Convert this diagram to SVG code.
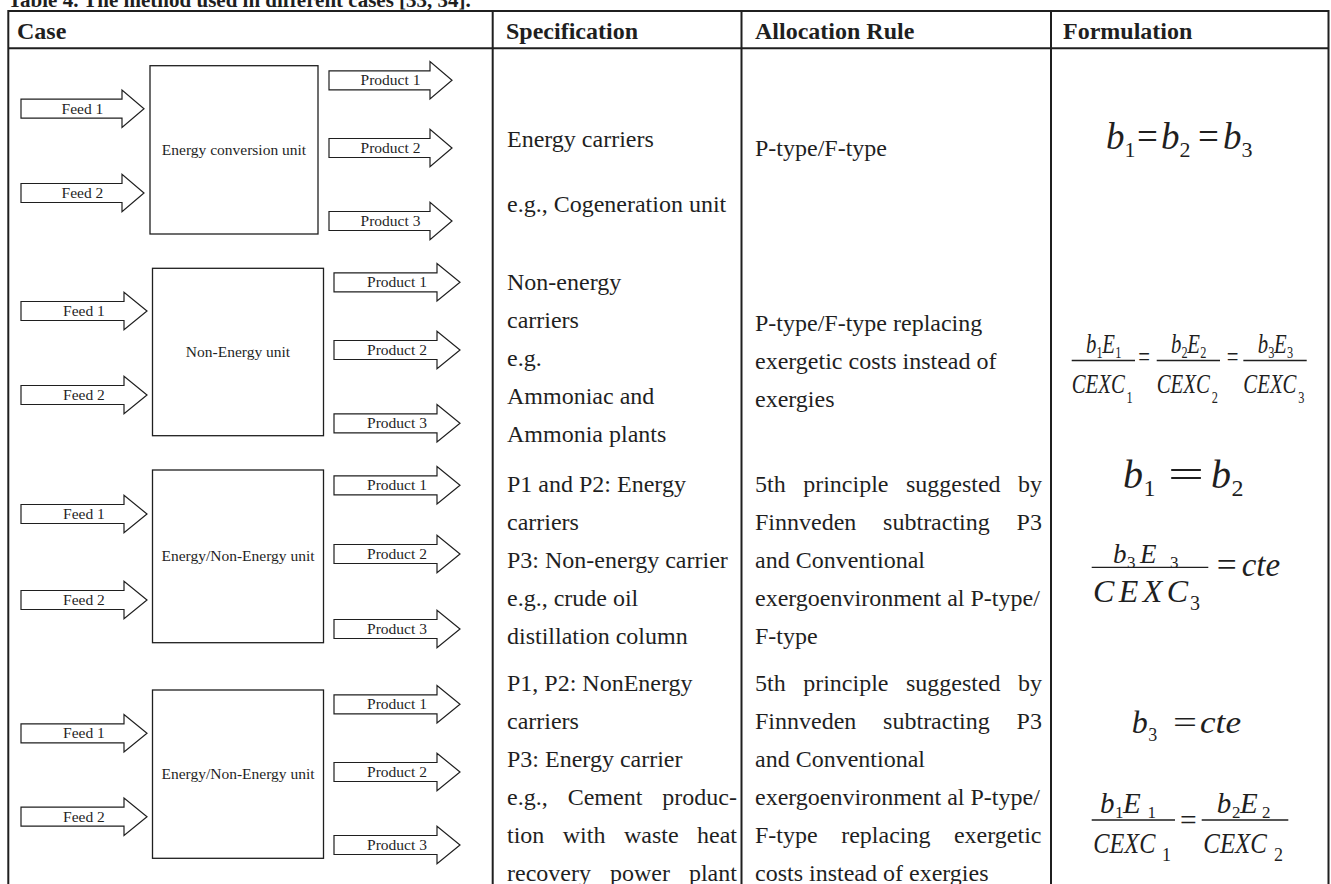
<svg xmlns="http://www.w3.org/2000/svg" width="1331" height="884" viewBox="0 0 1331 884">
<style>
.grid{stroke:#1f1f1f;stroke-width:2;fill:none}
.box{fill:#fff;stroke:#1f1f1f;stroke-width:1.3}
.arr{fill:#fff;stroke:#1f1f1f;stroke-width:1.2;stroke-linejoin:miter}
.lbl{font-family:"Liberation Serif","Times New Roman",serif;font-size:15.5px;fill:#1f1f1f;text-anchor:middle}
.hd{font-family:"Liberation Serif","Times New Roman",serif;font-size:24px;font-weight:bold;fill:#1f1f1f}
.tt{font-family:"Liberation Serif","Times New Roman",serif;font-size:21px;font-weight:bold;fill:#1f1f1f}
.tx{font-family:"Liberation Serif","Times New Roman",serif;font-size:24px;fill:#1f1f1f}
.m{font-family:"Liberation Serif","Times New Roman",serif;font-style:italic;fill:#1f1f1f}
.n{font-family:"Liberation Serif","Times New Roman",serif;font-style:normal;fill:#1f1f1f}
.bar{stroke:#1f1f1f;stroke-width:1.3}
</style>
<defs>
<path id="arrL" class="arr" d="M0,-9.5 H103 V-18.7 L126,0 L103,18.7 V9.5 H0 Z"/>
<path id="arrS" class="arr" d="M0,-9.5 H101 V-18.7 L123,0 L101,18.7 V9.5 H0 Z"/>
</defs>
<rect width="1331" height="884" fill="#fff"/>
<text class="tt" x="8" y="7">Table 4. The method used in different cases [33, 34].</text>

<g id="table-grid" class="grid">
<line x1="8.3" y1="11" x2="1328.5" y2="11"/>
<line x1="8.3" y1="48.3" x2="1328.5" y2="48.3"/>
<line x1="8.3" y1="10" x2="8.3" y2="884"/>
<line x1="492.7" y1="10" x2="492.7" y2="884"/>
<line x1="741.5" y1="10" x2="741.5" y2="884"/>
<line x1="1051" y1="10" x2="1051" y2="884"/>
<line x1="1328.5" y1="10" x2="1328.5" y2="884"/>
</g>

<g id="header">
<text class="hd" x="17" y="38.5">Case</text>
<text class="hd" x="506" y="38.5">Specification</text>
<text class="hd" x="755" y="38.5">Allocation Rule</text>
<text class="hd" x="1063" y="38.5">Formulation</text>
</g>

<g id="unit1"><rect class="box" x="150" y="65.7" width="168" height="168.3"/><text class="lbl" x="234" y="154.5">Energy conversion unit</text></g>
<g id="unit2"><rect class="box" x="152.5" y="268.3" width="171" height="167.4"/><text class="lbl" x="238" y="356.5">Non-Energy unit</text></g>
<g id="unit3"><rect class="box" x="152.5" y="470" width="171" height="172.7"/><text class="lbl" x="238" y="560.5">Energy/Non-Energy unit</text></g>
<g id="unit4"><rect class="box" x="152.5" y="690" width="171" height="168.3"/><text class="lbl" x="238" y="778.5">Energy/Non-Energy unit</text></g>

<g id="connectors">
<g id="r1-feed1"><use href="#arrS" x="21" y="108.7"/><text class="lbl" x="82.5" y="113.7">Feed 1</text></g>
<g id="r1-feed2"><use href="#arrS" x="21" y="193"/><text class="lbl" x="82.5" y="198">Feed 2</text></g>
<g id="r1-prod1"><use href="#arrS" x="329" y="80.3"/><text class="lbl" x="390.5" y="85.3">Product 1</text></g>
<g id="r1-prod2"><use href="#arrS" x="329" y="148"/><text class="lbl" x="390.5" y="153">Product 2</text></g>
<g id="r1-prod3"><use href="#arrS" x="329" y="221"/><text class="lbl" x="390.5" y="226">Product 3</text></g>

<g id="r2-feed1"><use href="#arrL" x="21" y="311"/><text class="lbl" x="84" y="316">Feed 1</text></g>
<g id="r2-feed2"><use href="#arrL" x="21" y="395"/><text class="lbl" x="84" y="400">Feed 2</text></g>
<g id="r2-prod1"><use href="#arrL" x="334" y="282.3"/><text class="lbl" x="397" y="287.3">Product 1</text></g>
<g id="r2-prod2"><use href="#arrL" x="334" y="350"/><text class="lbl" x="397" y="355">Product 2</text></g>
<g id="r2-prod3"><use href="#arrL" x="334" y="423.3"/><text class="lbl" x="397" y="428.3">Product 3</text></g>

<g id="r3-feed1"><use href="#arrL" x="21" y="514"/><text class="lbl" x="84" y="519">Feed 1</text></g>
<g id="r3-feed2"><use href="#arrL" x="21" y="600"/><text class="lbl" x="84" y="605">Feed 2</text></g>
<g id="r3-prod1"><use href="#arrL" x="334" y="485.3"/><text class="lbl" x="397" y="490.3">Product 1</text></g>
<g id="r3-prod2"><use href="#arrL" x="334" y="554"/><text class="lbl" x="397" y="559">Product 2</text></g>
<g id="r3-prod3"><use href="#arrL" x="334" y="629"/><text class="lbl" x="397" y="634">Product 3</text></g>

<g id="r4-feed1"><use href="#arrL" x="21" y="733.3"/><text class="lbl" x="84" y="738.3">Feed 1</text></g>
<g id="r4-feed2"><use href="#arrL" x="21" y="816.7"/><text class="lbl" x="84" y="821.7">Feed 2</text></g>
<g id="r4-prod1"><use href="#arrL" x="334" y="704.3"/><text class="lbl" x="397" y="709.3">Product 1</text></g>
<g id="r4-prod2"><use href="#arrL" x="334" y="772"/><text class="lbl" x="397" y="777">Product 2</text></g>
<g id="r4-prod3"><use href="#arrL" x="334" y="845"/><text class="lbl" x="397" y="850">Product 3</text></g>
</g>

<g id="spec">
<text class="tx" x="507" y="147">Energy carriers</text>
<text class="tx" x="507" y="212">e.g., Cogeneration unit</text>

<text class="tx" x="507" y="290">Non-energy</text>
<text class="tx" x="507" y="328">carriers</text>
<text class="tx" x="507" y="366">e.g.</text>
<text class="tx" x="507" y="404">Ammoniac and</text>
<text class="tx" x="507" y="442">Ammonia plants</text>

<text class="tx" x="507" y="492">P1 and P2: Energy</text>
<text class="tx" x="507" y="530">carriers</text>
<text class="tx" x="507" y="568">P3: Non-energy carrier</text>
<text class="tx" x="507" y="606">e.g., crude oil</text>
<text class="tx" x="507" y="644">distillation column</text>

<text class="tx" x="507" y="691">P1, P2: NonEnergy</text>
<text class="tx" x="507" y="729">carriers</text>
<text class="tx" x="507" y="767">P3: Energy carrier</text>
<text class="tx" x="507" y="805" style="word-spacing:14px">e.g., Cement produc-</text>
<text class="tx" x="507" y="843" style="word-spacing:12.45px">tion with waste heat</text>
<text class="tx" x="507" y="881" style="word-spacing:13px">recovery power plant</text>
</g>

<g id="alloc">
<text class="tx" x="755" y="156">P-type/F-type</text>

<text class="tx" x="755" y="331">P-type/F-type replacing</text>
<text class="tx" x="755" y="369">exergetic costs instead of</text>
<text class="tx" x="755" y="407">exergies</text>

<text class="tx" x="755" y="492" style="word-spacing:11.5px">5th principle suggested by</text>
<text class="tx" x="755" y="530" style="word-spacing:20.8px">Finnveden subtracting P3</text>
<text class="tx" x="755" y="568">and Conventional</text>
<text class="tx" x="755" y="606">exergoenvironment al P-type/</text>
<text class="tx" x="755" y="644">F-type</text>

<text class="tx" x="755" y="691" style="word-spacing:11.5px">5th principle suggested by</text>
<text class="tx" x="755" y="729" style="word-spacing:20.8px">Finnveden subtracting P3</text>
<text class="tx" x="755" y="767">and Conventional</text>
<text class="tx" x="755" y="805">exergoenvironment al P-type/</text>
<text class="tx" x="755" y="843" style="word-spacing:17.5px">F-type replacing exergetic</text>
<text class="tx" x="755" y="881">costs instead of exergies</text>
</g>

<g id="formula1">
<text class="m" font-size="37" x="1106" y="149">b</text>
<text class="n" font-size="22" x="1124.5" y="157">1</text>
<text class="n" font-size="37" x="1137" y="149">=</text>
<text class="m" font-size="37" x="1161" y="149">b</text>
<text class="n" font-size="22" x="1179.5" y="157">2</text>
<text class="n" font-size="37" x="1198" y="149">=</text>
<text class="m" font-size="37" x="1223" y="149">b</text>
<text class="n" font-size="22" x="1241.5" y="157">3</text>
</g>

<g id="formula2" transform="matrix(0.77 0 0 1 1060 0)">
<line class="bar" x1="15.2" y1="360.5" x2="97.4" y2="360.5"/>
<text class="m" font-size="27" x="33.8" y="353.5">b</text>
<text class="n" font-size="16" x="47.5" y="358.5">1</text>
<text class="m" font-size="27" x="55" y="353.5">E</text>
<text class="n" font-size="16" x="71.8" y="358.5">1</text>
<text class="m" font-size="27" x="15.2" y="393">CEXC</text>
<text class="n" font-size="16" x="86.5" y="403">1</text>
<text class="n" font-size="27" x="101.5" y="366.5">=</text>
<line class="bar" x1="125.6" y1="360.5" x2="207.8" y2="360.5"/>
<text class="m" font-size="27" x="144.2" y="353.5">b</text>
<text class="n" font-size="16" x="157.9" y="358.5">2</text>
<text class="m" font-size="27" x="165.4" y="353.5">E</text>
<text class="n" font-size="16" x="182.2" y="358.5">2</text>
<text class="m" font-size="27" x="125.6" y="393">CEXC</text>
<text class="n" font-size="16" x="197" y="403">2</text>
<text class="n" font-size="27" x="216.5" y="366.5">=</text>
<line class="bar" x1="238.1" y1="360.5" x2="320.4" y2="360.5"/>
<text class="m" font-size="27" x="256.7" y="353.5">b</text>
<text class="n" font-size="16" x="270.4" y="358.5">3</text>
<text class="m" font-size="27" x="277.9" y="353.5">E</text>
<text class="n" font-size="16" x="294.7" y="358.5">3</text>
<text class="m" font-size="27" x="238.1" y="393">CEXC</text>
<text class="n" font-size="16" x="309.5" y="403">3</text>
</g>

<g id="formula3">
<text class="m" font-size="40" x="1123" y="488">b</text>
<text class="n" font-size="24" x="1143.5" y="496">1</text>
<text class="n" font-size="40" x="1168" y="488" textLength="36" lengthAdjust="spacingAndGlyphs">=</text>
<text class="m" font-size="40" x="1211" y="488">b</text>
<text class="n" font-size="24" x="1231.5" y="496">2</text>
<line class="bar" x1="1091.7" y1="567.3" x2="1208.3" y2="567.3"/>
<text class="m" font-size="27" x="1113" y="563">b</text>
<text class="n" font-size="17" x="1127" y="568">3</text>
<text class="m" font-size="27" x="1140" y="563">E</text>
<text class="n" font-size="17" x="1170" y="568">3</text>
<text class="m" font-size="32" x="1093" y="602" textLength="95" lengthAdjust="spacing">CEXC</text>
<text class="n" font-size="20" x="1190" y="610">3</text>
<text class="n" font-size="33" x="1216.7" y="576" textLength="20" lengthAdjust="spacingAndGlyphs">=</text>
<text class="m" font-size="33" x="1241.7" y="576">cte</text>
</g>

<g id="formula4">
<text class="m" font-size="32" x="1131.7" y="733">b</text>
<text class="n" font-size="18" x="1148.3" y="741">3</text>
<text class="n" font-size="32" x="1173" y="733" textLength="24" lengthAdjust="spacingAndGlyphs">=</text>
<text class="m" font-size="32" x="1200" y="733" textLength="41" lengthAdjust="spacingAndGlyphs">cte</text>
<line class="bar" x1="1091.7" y1="820" x2="1175" y2="820"/>
<text class="m" font-size="29" x="1100" y="813">b</text>
<text class="n" font-size="17" x="1115" y="818">1</text>
<text class="m" font-size="29" x="1123" y="813">E</text>
<text class="n" font-size="17" x="1147.5" y="818">1</text>
<text class="m" font-size="30" transform="translate(1093.3 853) scale(0.81 1)">CEXC</text>
<text class="n" font-size="18" x="1162" y="861">1</text>
<text class="n" font-size="29" x="1180" y="830" textLength="16.7" lengthAdjust="spacingAndGlyphs">=</text>
<line class="bar" x1="1201.7" y1="820" x2="1288.3" y2="820"/>
<text class="m" font-size="29" x="1216.7" y="813">b</text>
<text class="n" font-size="17" x="1232" y="818">2</text>
<text class="m" font-size="29" x="1240" y="813">E</text>
<text class="n" font-size="17" x="1262" y="818">2</text>
<text class="m" font-size="30" transform="translate(1203.3 853) scale(0.83 1)">CEXC</text>
<text class="n" font-size="18" x="1274" y="861">2</text>
</g>
</svg>
